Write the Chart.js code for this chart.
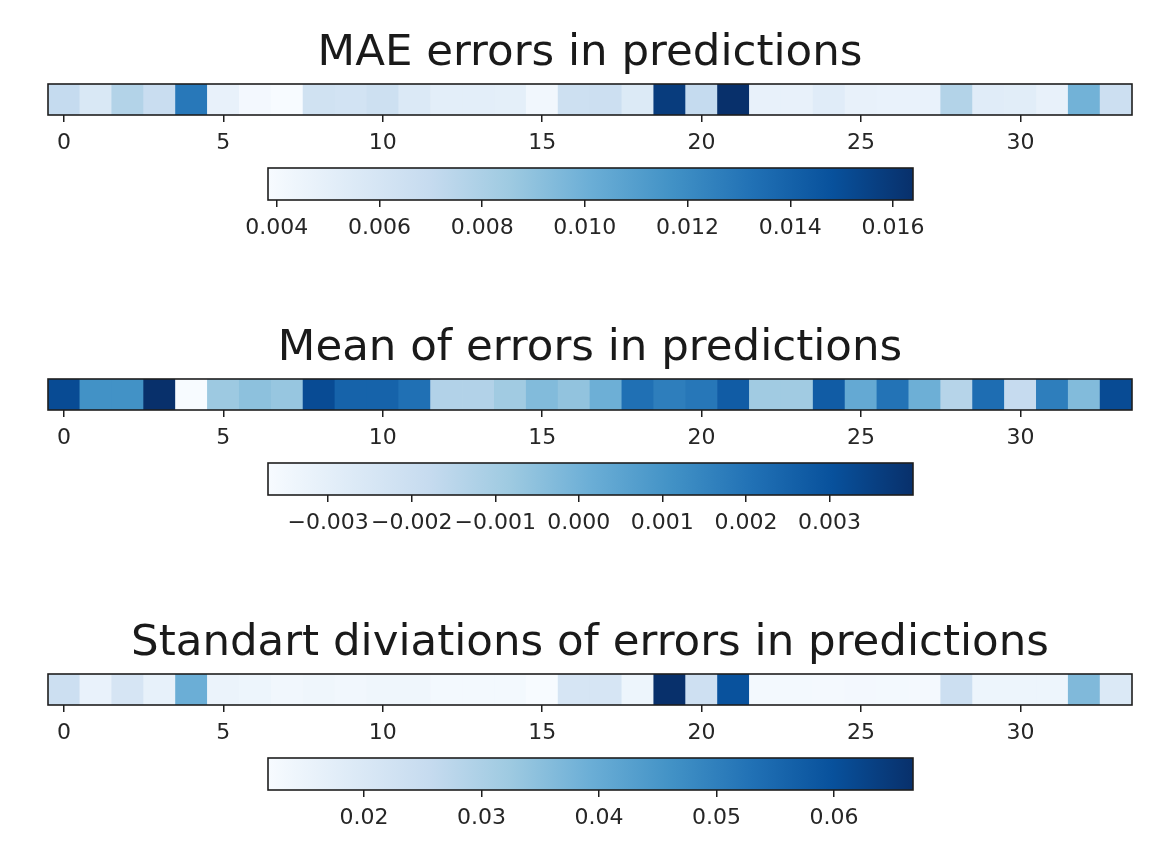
<!DOCTYPE html>
<html>
<head>
<meta charset="utf-8">
<script src="https://cdn.jsdelivr.net/npm/chart.js@4.4.0/dist/chart.umd.min.js"></script>
<style>
  html, body { margin: 0; padding: 0; background: #ffffff; }
  #fig { position: relative; width: 1174px; height: 852px; background: #ffffff; overflow: hidden; }
  #fig canvas { position: absolute; left: 0; }
</style>
</head>
<body>
<div id="fig"></div>
<script>
// ---- data -------------------------------------------------------------
const columns = [0, 1, 2, 3, 4, 5, 6, 7, 8, 9, 10, 11, 12, 13, 14, 15, 16,
                 17, 18, 19, 20, 21, 22, 23, 24, 25, 26, 27, 28, 29, 30, 31, 32, 33];
const columnTicks = [0, 5, 10, 15, 20, 25, 30];

const maeTitle = 'MAE errors in predictions';
const maeValues = [0.0070, 0.0057, 0.0077, 0.0068, 0.0129, 0.0048, 0.0041, 0.00383,
                   0.0063, 0.0062, 0.0065, 0.0056, 0.0051, 0.0051, 0.0050, 0.0042,
                   0.0065, 0.0066, 0.0055, 0.0158, 0.0070, 0.01639, 0.0048, 0.0048,
                   0.0053, 0.0048, 0.0047, 0.0047, 0.0077, 0.0053, 0.0052, 0.0048,
                   0.0099, 0.0066];
const maeTicks = [0.004, 0.006, 0.008, 0.010, 0.012, 0.014, 0.016];

const meanTitle = 'Mean of errors in predictions';
const meanValues = [0.0032, 0.0011, 0.0011, 0.0040, -0.00372, -0.0008, -0.0005, -0.0007,
                    0.0032, 0.0025, 0.0025, 0.0021, -0.0013, -0.0013, -0.0009, -0.0003,
                    -0.0006, 0.0001, 0.0021, 0.0017, 0.0019, 0.0027, -0.0009, -0.0009,
                    0.0027, 0.0003, 0.0020, 0.0001, -0.0014, 0.0022, -0.0018, 0.0017,
                    -0.0003, 0.0032];
const meanTicks = [-0.003, -0.002, -0.001, 0.000, 0.001, 0.002, 0.003];

const stdTitle = 'Standart diviations of errors in predictions';
const stdValues = [0.0239, 0.0156, 0.0211, 0.0162, 0.0393, 0.0151, 0.0145, 0.0134,
                   0.0140, 0.0134, 0.0140, 0.0140, 0.0129, 0.0129, 0.0129, 0.01184,
                   0.0211, 0.0211, 0.0145, 0.06672, 0.0233, 0.0596, 0.0129, 0.0129,
                   0.0128, 0.0130, 0.0129, 0.0128, 0.0239, 0.0145, 0.0145, 0.0145,
                   0.0365, 0.0195];
const stdTicks = [0.02, 0.03, 0.04, 0.05, 0.06];

// ---- "Blues" colour map -----------------------------------------------
const BLUES = [[247,251,255],[222,235,247],[198,219,239],[158,202,225],[107,174,214],
               [66,146,198],[33,113,181],[8,81,156],[8,48,107]];
function blues(t) {
  t = Math.max(0, Math.min(1, t));
  const p = t * (BLUES.length - 1);
  const i = Math.min(Math.floor(p), BLUES.length - 2);
  const f = p - i;
  const a = BLUES[i], b = BLUES[i + 1];
  const c = a.map((v, k) => Math.round(v + (b[k] - v) * f));
  return `rgb(${c[0]},${c[1]},${c[2]})`;
}

// ---- common styling ---------------------------------------------------
const FONT = 'DejaVu Sans';
const INK = '#1e1e1e';
const W = 1174;
const PANEL_STEP = 295;

Chart.defaults.font.family = FONT;
Chart.defaults.color = '#262626';

// outlines the plotting area like an axes frame
const framePlugin = {
  id: 'frame',
  afterDatasetsDraw(chart) {
    const a = chart.chartArea, ctx = chart.ctx;
    ctx.save();
    ctx.strokeStyle = INK;
    ctx.lineWidth = 1.6;
    ctx.strokeRect(a.left, a.top, a.right - a.left, a.bottom - a.top);
    ctx.restore();
  }
};

function addCanvas(top, height) {
  const c = document.createElement('canvas');
  c.width = W; c.height = height;
  c.style.top = top + 'px';
  c.style.width = W + 'px'; c.style.height = height + 'px';
  document.getElementById('fig').appendChild(c);
  return c;
}

function xAxis(min, max, tickValues, formatter) {
  return {
    type: 'linear', position: 'bottom', min: min, max: max, offset: false,
    afterBuildTicks: s => { s.ticks = tickValues.map(v => ({ value: v })); },
    afterFit: s => { s.height = 60; },
    border: { display: false },
    grid: { offset: false, drawOnChartArea: false, drawTicks: true, tickLength: 7,
            color: INK, lineWidth: 1.5 },
    ticks: { font: { family: FONT, size: 22 }, color: '#262626', padding: 8,
             maxRotation: 0, autoSkip: false, callback: formatter }
  };
}

// one row of coloured cells with its title and column axis
function drawStrip(top, title, values) {
  const vmin = Math.min(...values), vmax = Math.max(...values);
  const colors = values.map(v => blues((v - vmin) / (vmax - vmin)));
  new Chart(addCanvas(top, 175), {
    type: 'bar',
    data: {
      datasets: [{
        data: columns.map(c => ({ x: c, y: [0, 1] })),
        backgroundColor: colors,
        borderWidth: 0,
        barPercentage: 1, categoryPercentage: 1
      }]
    },
    options: {
      responsive: false, animation: false, events: [],
      layout: { padding: { left: 48, right: 42, top: 0, bottom: 0 } },
      plugins: {
        legend: { display: false }, tooltip: { enabled: false },
        title: { display: true, text: title, color: '#1a1a1a',
                 font: { family: FONT, size: 43.5, weight: 'normal' },
                 padding: { top: 28, bottom: 3.8 } }
      },
      scales: {
        x: xAxis(-0.5, columns.length - 0.5, columnTicks, v => String(v)),
        y: { display: false, min: 0, max: 1 }
      }
    },
    plugins: [framePlugin]
  });
}

// horizontal colour bar for the value range of a strip
function drawColorbar(top, values, tickValues, decimals) {
  const vmin = Math.min(...values), vmax = Math.max(...values);
  const fmt = v => (v < -1e-12 ? '\u2212' : '') + Math.abs(v).toFixed(decimals);
  new Chart(addCanvas(top, 100), {
    type: 'bar',
    data: {
      labels: ['range'],
      datasets: [{
        data: [[vmin, vmax]],
        backgroundColor: ctx => {
          const chart = ctx.chart;
          if (!chart.chartArea) return blues(0.5);
          const xs = chart.scales.x;
          const g = chart.ctx.createLinearGradient(xs.getPixelForValue(vmin), 0, xs.getPixelForValue(vmax), 0);
          BLUES.forEach((c, k) => g.addColorStop(k / (BLUES.length - 1), `rgb(${c[0]},${c[1]},${c[2]})`));
          return g;
        },
        borderWidth: 0,
        barPercentage: 1, categoryPercentage: 1
      }]
    },
    options: {
      indexAxis: 'y',
      responsive: false, animation: false, events: [],
      layout: { padding: { left: 268, right: 261, top: 8, bottom: 0 } },
      plugins: { legend: { display: false }, tooltip: { enabled: false }, title: { display: false } },
      scales: {
        x: xAxis(vmin, vmax, tickValues, fmt),
        y: { display: false }
      }
    },
    plugins: [framePlugin]
  });
}

drawStrip(0, maeTitle, maeValues);
drawColorbar(160, maeValues, maeTicks, 3);
drawStrip(PANEL_STEP, meanTitle, meanValues);
drawColorbar(160 + PANEL_STEP, meanValues, meanTicks, 3);
drawStrip(2 * PANEL_STEP, stdTitle, stdValues);
drawColorbar(160 + 2 * PANEL_STEP, stdValues, stdTicks, 2);
</script>
</body>
</html>
